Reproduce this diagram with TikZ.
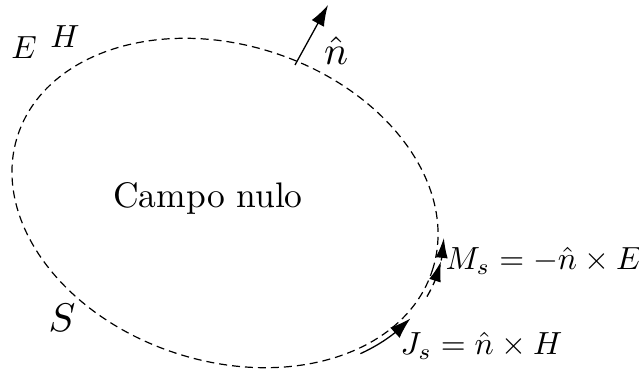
\documentclass[tikz,border=0pt]{standalone}
\usetikzlibrary{arrows.meta,bending}
\begin{document}
\begin{tikzpicture}[x=1pt,y=1pt,
  lbl/.style={inner sep=0pt, anchor=base, scale=3.2},
  big/.style={inner sep=0pt, anchor=base, scale=4},
  txt/.style={inner sep=0pt, anchor=base, scale=3.55},
  curve/.style={dash pattern=on 8pt off 5pt, line width=1.2pt},
  tipone/.style={-{Latex[length=21pt,width=14pt]}, line width=1.3pt},
  tiptwo/.style={-{Latex[length=20pt,width=12pt,sep=4pt] Latex[length=20pt,width=12pt]}, line width=1.3pt, dash pattern=on 8pt off 5pt}]
\useasboundingbox (0,0) rectangle (639,374);
\coordinate (c) at (225,171);
\draw[curve, rotate around={-18:(c)}] (c) ellipse [x radius=218, y radius=158];
\begin{scope}[shift={(c)}, rotate=-18]
  \coordinate (js) at (-38.5:224 and 163);
  \coordinate (ms) at (-9.4:224 and 163);
  \draw[tipone] (js) arc[start angle=-38.5, end angle=-18.8, x radius=224, y radius=163];
  \draw[tiptwo] (ms) arc[start angle=-9.4, end angle=12.2, x radius=224, y radius=163];
\end{scope}
\coordinate (nb) at (295,309);
\coordinate (nt) at (328,369);
\draw[tipone] (nb) -- (nt);
\node[lbl] (E) at (24,315) {$E$};
\node[lbl] (H) at (65,326) {$H$};
\node[big] (S) at (62,42) {$S$};
\node[txt] (cn) at (208,166) {Campo nulo};
\node[big] (n) at (336,309) {$\hat{n}$};
\node[lbl, anchor=base west] (M) at (445,104) {$M_s=-\hat{n}\times E$};
\node[lbl, anchor=base west] (J) at (400,19) {$J_s=\hat{n}\times H$};
\end{tikzpicture}
\end{document}
